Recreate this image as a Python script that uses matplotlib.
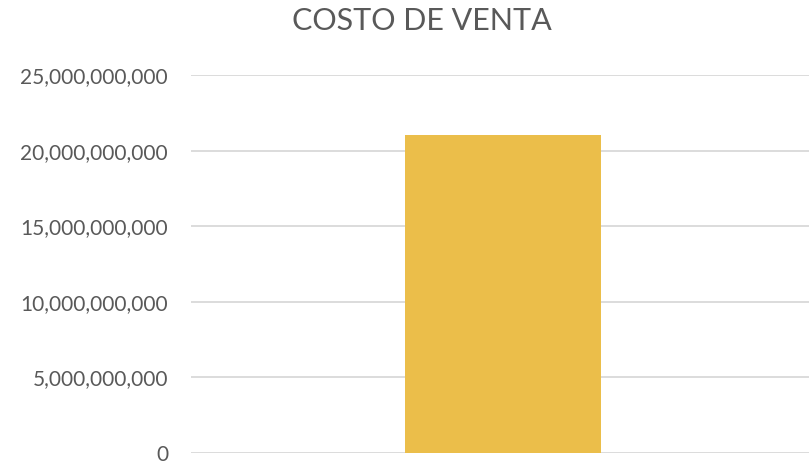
import matplotlib.pyplot as plt
from matplotlib.ticker import FuncFormatter

# data
categories = ['']
values = [21050000000]
y_ticks = [0, 5e9, 10e9, 15e9, 20e9, 25e9]
title = 'COSTO DE VENTA'

bar_color = '#EBBE4A'
text_color = '#595959'
grid_color = '#D9D9D9'

plt.rcParams['font.family'] = ['Lato', 'DejaVu Sans']

fig = plt.figure(figsize = (8.09, 4.65), dpi = 100)
ax = fig.add_axes([0.2361, 0.0258, 0.7639, 0.8129])

ax.bar(range(len(categories)), values, width = 0.5, color = bar_color, zorder = 3)

ax.set_xlim(-0.796, 0.781)
ax.set_ylim(0, 25e9)
ax.set_yticks(y_ticks)
ax.yaxis.set_major_formatter(FuncFormatter(lambda v, p: f'{int(v):,}'))
ax.set_xticks([])

ax.grid(axis = 'y', color = grid_color, linewidth = 1.3, zorder = 0)
for s in ['top', 'bottom', 'right', 'left']:
    ax.spines[s].set_visible(False)
ax.tick_params(axis = 'y', length = 0, pad = 16.5, labelsize = 15, labelcolor = text_color)

fig.text(0.521, 0.955, title, ha = 'center', va = 'center', fontsize = 22, color = text_color)

plt.savefig('out.png', dpi = 100)
